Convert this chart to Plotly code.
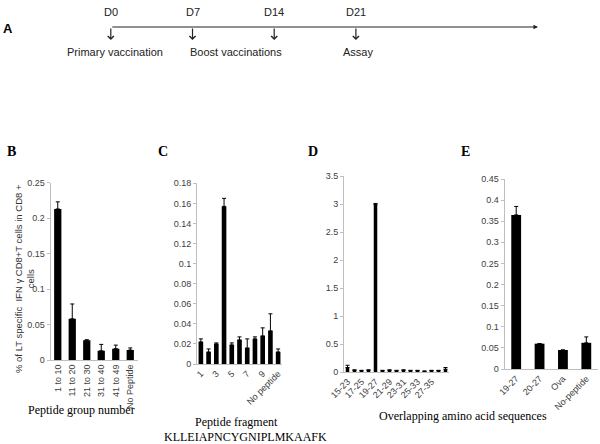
import plotly.graph_objects as go

# ---------------- data ----------------
b_cats = ["1 to 10", "11 to 20", "21 to 30", "31 to 40", "41 to 49", "No Peptide"]
b_vals = [0.213, 0.058, 0.028, 0.013, 0.016, 0.014]
b_err = [0.010, 0.021, 0.0005, 0.009, 0.005, 0.003]

c_cats = ["1", "2", "3", "4", "5", "6", "7", "8", "9", "10", "No peptide"]
c_vals = [0.022, 0.012, 0.020, 0.157, 0.019, 0.024, 0.016, 0.025, 0.028, 0.033, 0.012]
c_err = [0.003, 0.003, 0.001, 0.008, 0.002, 0.003, 0.009, 0.002, 0.008, 0.017, 0.003]
c_ticks = ["1", "3", "5", "7", "9", "No peptide"]

d_cats = ["15-23", "16-24", "17-25", "18-26", "19-27", "20-28", "21-29", "22-30",
          "23-31", "24-32", "25-33", "26-34", "27-35", "28-36", "29-37"]
d_vals = [0.08, 0.03, 0.02, 0.03, 2.99, 0.02, 0.03, 0.02, 0.03, 0.02, 0.02, 0.01, 0.02, 0.02, 0.05]
d_err = [0.04, 0.01, 0.01, 0.01, 0.02, 0.01, 0.01, 0.01, 0.01, 0.01, 0.01, 0.01, 0.01, 0.01, 0.03]
d_ticks = ["15-23", "17-25", "19-27", "21-29", "23-31", "25-33", "27-35"]

e_cats = ["19-27", "20-27", "Ova", "No-peptide"]
e_vals = [0.365, 0.060, 0.045, 0.062]
e_err = [0.020, 0.0, 0.0, 0.014]

t_days = [0, 7, 14, 21]
t_day_labels = ["D0", "D7", "D14", "D21"]
t_events = ["Primary vaccination", "Boost vaccinations", "Assay"]
t_event_days = [0.4, 10.7, 21.2]
t_end = 36.6

W, H = 600, 444

def px(x):
    return x / W

def py(y):
    return 1 - y / H

AX_GRAY = "#BFBFBF"
TICK_FONT = dict(family="Arial, Liberation Sans, sans-serif", size=9, color="#404040")
SERIF = "Liberation Serif, Times New Roman, serif"
SANS = "Arial, Liberation Sans, sans-serif"

fig = go.Figure()

panels = [
    (b_cats, b_vals, b_err, 0.5, 0.25, 0.05, (50.5, 137.5), (360, 182.7), None, -90),
    (c_cats, c_vals, c_err, 0.6, 0.18, 0.02, (197, 282), (364, 183.3), c_ticks, -45),
    (d_cats, d_vals, d_err, 0.5, 3.5, 0.5, (344, 449), (372, 176), d_ticks, -45),
    (e_cats, e_vals, e_err, 0.42, 0.45, 0.05, (504.5, 598), (369, 179), None, -45),
]

for i, (cats, vals, err, bw, ymax, dt, xd, yd, ticks, ang) in enumerate(panels, start=1):
    xa = "x" if i == 1 else f"x{i}"
    ya = "y" if i == 1 else f"y{i}"
    fig.add_trace(go.Bar(
        x=cats, y=vals, width=bw, marker=dict(color="black", line=dict(width=0)),
        error_y=dict(type="data", symmetric=False, array=err, arrayminus=[0] * len(err),
                     color="black", thickness=1, width=2),
        xaxis=xa, yaxis=ya, hoverinfo="skip",
    ))
    xkey = "xaxis" if i == 1 else f"xaxis{i}"
    ykey = "yaxis" if i == 1 else f"yaxis{i}"
    xaxis = dict(
        domain=[px(xd[0]), px(xd[1])], anchor=ya, type="category", automargin=False,
        range=[-0.5, len(cats) - 0.5], showline=True, linecolor=AX_GRAY, linewidth=1,
        ticks="", showgrid=False, zeroline=False, tickangle=ang, tickfont=TICK_FONT,
        fixedrange=True,
    )
    if ticks is not None:
        xaxis["tickmode"] = "array"
        xaxis["tickvals"] = ticks
        xaxis["ticktext"] = ticks
    fig.update_layout({xkey: xaxis})
    fig.update_layout({ykey: dict(
        domain=[py(yd[0]), py(yd[1])], anchor=xa, range=[0, ymax], dtick=dt, tick0=0,
        showline=True, linecolor=AX_GRAY, linewidth=1, ticks="outside", ticklen=3,
        tickcolor=AX_GRAY, showgrid=False, zeroline=False, tickfont=TICK_FONT,
        fixedrange=True, automargin=False,
    )})

# timeline axis (invisible)
fig.add_trace(go.Scatter(x=[0, t_end], y=[0, 0], mode="lines", line=dict(width=0),
                         xaxis="x5", yaxis="y5", hoverinfo="skip", showlegend=False))
fig.update_layout(
    xaxis5=dict(domain=[px(110.8), px(538)], range=[0, t_end], visible=False, anchor="y5",
                automargin=False),
    yaxis5=dict(domain=[py(60), py(10)], range=[0, 1], visible=False, anchor="x5",
                automargin=False),
)

ann = []
LINE_Y = 27
ann.append(dict(x=t_end, y=py(LINE_Y), xref="x5", yref="paper", ax=0, ay=0,
                axref="x5", ayref="pixel", showarrow=True, arrowhead=2, arrowsize=0.9,
                arrowwidth=1, arrowcolor="#222", text=""))
for d, lab in zip(t_days, t_day_labels):
    ann.append(dict(x=d, y=py(40), xref="x5", yref="paper", ax=0, ay=-13, showarrow=True,
                    arrowhead=4, arrowsize=1, arrowwidth=1.2, arrowcolor="#222", text=""))
    ann.append(dict(x=d, y=py(12.5), xref="x5", yref="paper", text=lab, showarrow=False,
                    font=dict(family=SANS, size=11, color="#222"),
                    xanchor="center", yanchor="middle"))
for d, lab in zip(t_event_days, t_events):
    ann.append(dict(x=d, y=py(52), xref="x5", yref="paper", text=lab, showarrow=False,
                    font=dict(family=SANS, size=11, color="#222"),
                    xanchor="center", yanchor="middle"))

ann.append(dict(x=px(7.5), y=py(28), xref="paper", yref="paper", text="<b>A</b>",
                showarrow=False, xanchor="center", yanchor="middle",
                font=dict(family=SANS, size=13, color="black")))
for lab, x in [("B", 11), ("C", 163), ("D", 313), ("E", 465)]:
    ann.append(dict(x=px(x), y=py(151), xref="paper", yref="paper", text=f"<b>{lab}</b>",
                    showarrow=False, xanchor="center", yanchor="middle",
                    font=dict(family=SERIF, size=14, color="black")))

ann.append(dict(x=px(24), y=py(279), xref="paper", yref="paper", textangle=-90,
                text="% of LT specific  IFN γ CD8+T cells in CD8 +<br>cells", showarrow=False,
                align="center", xanchor="center", yanchor="middle",
                font=dict(family=SANS, size=9.5, color="#333")))

for txt, x, y in [("Peptide group number", 81, 410), ("Peptide fragment", 236, 422),
                  ("KLLEIAPNCYGNIPLMKAAFK", 246, 437),
                  ("Overlapping amino acid sequences", 463, 416)]:
    ann.append(dict(x=px(x), y=py(y), xref="paper", yref="paper", text=txt, showarrow=False,
                    xanchor="center", yanchor="middle",
                    font=dict(family=SERIF, size=12, color="black")))

fig.update_layout(
    width=W, height=H, margin=dict(l=0, r=0, t=0, b=0, autoexpand=False), showlegend=False,
    paper_bgcolor="white", plot_bgcolor="white", annotations=ann,
)

fig.write_html("out.html", config={"displayModeBar": False},
               post_script="document.body.style.margin='0';")
